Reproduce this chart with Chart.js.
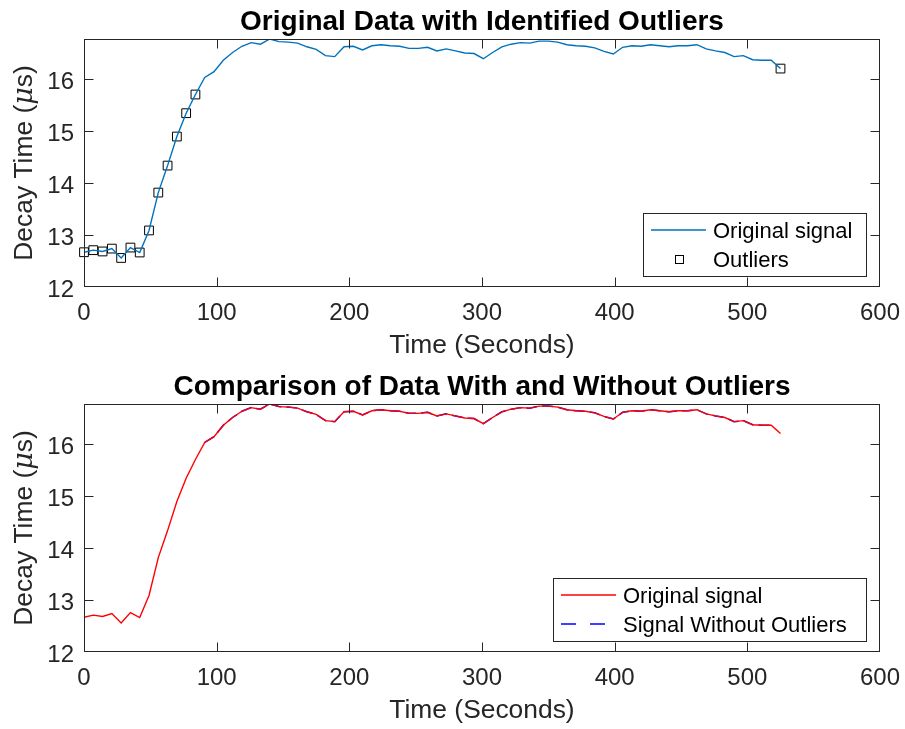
<!DOCTYPE html>
<html>
<head>
<meta charset="utf-8">
<script src="https://cdn.jsdelivr.net/npm/chart.js@4.4.1/dist/chart.umd.min.js"></script>
<style>
  html, body { margin: 0; padding: 0; background: #fff; overflow: hidden; }
  .panel { position: absolute; left: 0; width: 905px; height: 365px; }
  #top { top: 0; }
  #bottom { top: 365px; }
</style>
</head>
<body>
<div class="panel" id="top"><canvas id="c1" width="905" height="365"></canvas></div>
<div class="panel" id="bottom"><canvas id="c2" width="905" height="365"></canvas></div>
<script>
// sample times (s) and measured decay time (µs)
const time = [
  0, 7, 14, 21, 28, 35, 42, 49, 56, 63, 70, 77, 84, 91, 98, 105, 112, 119, 126, 133,
  140, 147, 154, 161, 168, 175, 182, 189, 196, 203, 210, 217, 224, 231, 238, 245, 252, 259, 266, 273,
  280, 287, 294, 301, 308, 315, 322, 329, 336, 343, 350, 357, 364, 371, 378, 385, 392, 399, 406, 413,
  420, 427, 434, 441, 448, 455, 462, 469, 476, 483, 490, 497, 504, 511, 518, 525
];
const decay = [
  12.67, 12.71, 12.685, 12.74, 12.56, 12.76, 12.665, 13.09, 13.82, 14.34,
  14.90, 15.35, 15.71, 16.04, 16.15, 16.37, 16.52, 16.64, 16.71, 16.68,
  16.78, 16.73, 16.72, 16.70, 16.63, 16.58, 16.46, 16.44, 16.63, 16.64,
  16.57, 16.65, 16.67, 16.65, 16.64, 16.60, 16.60, 16.62, 16.55, 16.59,
  16.55, 16.51, 16.50, 16.40, 16.52, 16.63, 16.68, 16.71, 16.70, 16.74,
  16.74, 16.72, 16.67, 16.65, 16.64, 16.61, 16.54, 16.49, 16.62, 16.65,
  16.64, 16.67, 16.65, 16.63, 16.65, 16.65, 16.67, 16.59, 16.55, 16.52,
  16.44, 16.46, 16.38, 16.37, 16.37, 16.21
];
// indices flagged as outliers
const outlierIdx = [0, 1, 2, 3, 4, 5, 6, 7, 8, 9, 10, 11, 12, 75];

const xTicks = [0, 100, 200, 300, 400, 500, 600];
const yTicks = [12, 13, 14, 15, 16];
const xRange = [0, 600];
const yRange = [12, 16.78];

const FONT = "'Liberation Sans', Arial, Helvetica, sans-serif";
const AXIS = '#262626';

const signalPts = time.map((t, i) => ({ x: t, y: decay[i] }));
const outlierPts = outlierIdx.map(i => ({ x: time[i], y: decay[i] }));
const cleanPts = signalPts.filter((p, i) => !outlierIdx.includes(i));

// box, inward ticks, title, y label and legend drawn the matlab way
const axesDeco = {
  id: 'axesDeco',
  afterDraw(chart, args, opts) {
    const { ctx, chartArea: a, scales } = chart;
    const L = Math.round(a.left) + 0.5, R = Math.round(a.right) - 0.5;
    const T = Math.round(a.top) + 0.5, B = Math.round(a.bottom) - 0.5;
    ctx.save();
    ctx.strokeStyle = AXIS;
    ctx.lineWidth = 1;
    ctx.strokeRect(L, T, R - L, B - T);
    ctx.beginPath();
    scales.x.ticks.forEach(t => {
      const px = Math.min(R, Math.max(L, Math.round(scales.x.getPixelForValue(t.value)) + 0.5));
      ctx.moveTo(px, B); ctx.lineTo(px, B - 9);
      ctx.moveTo(px, T); ctx.lineTo(px, T + 9);
    });
    scales.y.ticks.forEach(t => {
      const py = Math.min(B, Math.max(T, Math.round(scales.y.getPixelForValue(t.value)) + 0.5));
      ctx.moveTo(L, py); ctx.lineTo(L + 9, py);
      ctx.moveTo(R, py); ctx.lineTo(R - 9, py);
    });
    ctx.stroke();

    // title
    ctx.fillStyle = '#000';
    ctx.font = `bold 28px ${FONT}`;
    ctx.textAlign = 'center';
    ctx.textBaseline = 'alphabetic';
    ctx.fillText(opts.title, (a.left + a.right) / 2, 29.5);

    // y label with italic mu
    ctx.save();
    ctx.translate(32, (a.top + a.bottom) / 2);
    ctx.rotate(-Math.PI / 2);
    ctx.fillStyle = AXIS;
    const parts = [
      ['Decay Time (', `26.4px ${FONT}`],
      ['\u03bc', `italic 27px 'DejaVu Serif', 'Liberation Serif', serif`],
      ['s)', `26.4px ${FONT}`]
    ];
    let total = 0;
    parts.forEach(([s, f]) => { ctx.font = f; total += ctx.measureText(s).width; });
    let cx = -total / 2;
    ctx.textAlign = 'left';
    parts.forEach(([s, f]) => { ctx.font = f; ctx.fillText(s, cx, 0); cx += ctx.measureText(s).width; });
    ctx.restore();

    // legend
    const lg = opts.legend;
    const top = 213, h = 63;
    ctx.fillStyle = '#fff';
    ctx.fillRect(lg.left, top, lg.width, h);
    ctx.strokeStyle = AXIS;
    ctx.lineWidth = 1;
    ctx.strokeRect(lg.left + 0.5, top + 0.5, lg.width, h);
    ctx.font = `22px ${FONT}`;
    ctx.textAlign = 'left';
    lg.items.forEach((it, k) => {
      const ry = 230 + k * 29;
      const ds = chart.data.datasets[it.ds];
      if (it.kind === 'line') {
        ctx.strokeStyle = ds.borderColor;
        ctx.lineWidth = ds.borderWidth;
        ctx.setLineDash(it.dash || []);
        ctx.beginPath();
        ctx.moveTo(lg.left + 8, ry);
        ctx.lineTo(lg.left + 63, ry);
        ctx.stroke();
        ctx.setLineDash([]);
      } else {
        ctx.strokeStyle = '#000';
        ctx.lineWidth = 1;
        ctx.strokeRect(lg.left + 32.5, ry - 3.5, 8, 8);
      }
      ctx.fillStyle = '#000';
      ctx.fillText(it.label, lg.left + 70, ry + 8);
    });
    ctx.restore();
  }
};

function makeOptions(title, legend) {
  return {
    responsive: false,
    animation: false,
    layout: { padding: { top: 39, right: 25, left: 0, bottom: 0 } },
    plugins: {
      legend: { display: false },
      tooltip: { enabled: false },
      axesDeco: { title, legend }
    },
    scales: {
      x: {
        type: 'linear', min: xRange[0], max: xRange[1],
        afterBuildTicks: s => { s.ticks = xTicks.map(v => ({ value: v })); },
        afterFit: s => { s.height = 78; s.paddingLeft = 0; s.paddingRight = 0; },
        grid: { display: false, drawTicks: false },
        border: { display: false },
        ticks: { color: AXIS, font: { family: FONT, size: 24 }, padding: 12, maxRotation: 0, autoSkip: false, includeBounds: false },
        title: { display: true, text: 'Time (Seconds)', color: AXIS, font: { family: FONT, size: 26.4 }, padding: { top: 0, bottom: 3 } }
      },
      y: {
        type: 'linear', min: yRange[0], max: yRange[1],
        afterBuildTicks: s => { s.ticks = yTicks.map(v => ({ value: v })); },
        afterFit: s => { s.width = 84; s.paddingTop = 0; s.paddingBottom = 0; },
        grid: { display: false, drawTicks: false },
        border: { display: false },
        ticks: { color: AXIS, font: { family: FONT, size: 24 }, padding: 10, labelOffset: 3, includeBounds: false }
      }
    }
  };
}

new Chart(document.getElementById('c1'), {
  type: 'line',
  data: {
    datasets: [
      {
        label: 'Original signal', data: signalPts,
        borderColor: '#0072BD', borderWidth: 1.4, pointRadius: 0, tension: 0
      },
      {
        label: 'Outliers', data: outlierPts, showLine: false, clip: false,
        pointStyle: 'rect', pointRadius: 6.2, pointBorderWidth: 1,
        pointBorderColor: '#000', pointBackgroundColor: 'rgba(0,0,0,0)'
      }
    ]
  },
  options: makeOptions('Original Data with Identified Outliers', {
    left: 643, width: 223,
    items: [
      { label: 'Original signal', ds: 0, kind: 'line' },
      { label: 'Outliers', ds: 1, kind: 'marker' }
    ]
  }),
  plugins: [axesDeco]
});

new Chart(document.getElementById('c2'), {
  type: 'line',
  data: {
    datasets: [
      {
        label: 'Original signal', data: signalPts,
        borderColor: '#FF0000', borderWidth: 1.4, pointRadius: 0, tension: 0
      },
      {
        label: 'Signal Without Outliers', data: cleanPts,
        borderColor: '#0000FF', borderWidth: 1.5, borderDash: [11, 5], pointRadius: 0, tension: 0
      }
    ]
  },
  options: makeOptions('Comparison of Data With and Without Outliers', {
    left: 553, width: 313,
    items: [
      { label: 'Original signal', ds: 0, kind: 'line' },
      { label: 'Signal Without Outliers', ds: 1, kind: 'line', dash: [15, 14] }
    ]
  }),
  plugins: [axesDeco]
});
</script>
</body>
</html>
